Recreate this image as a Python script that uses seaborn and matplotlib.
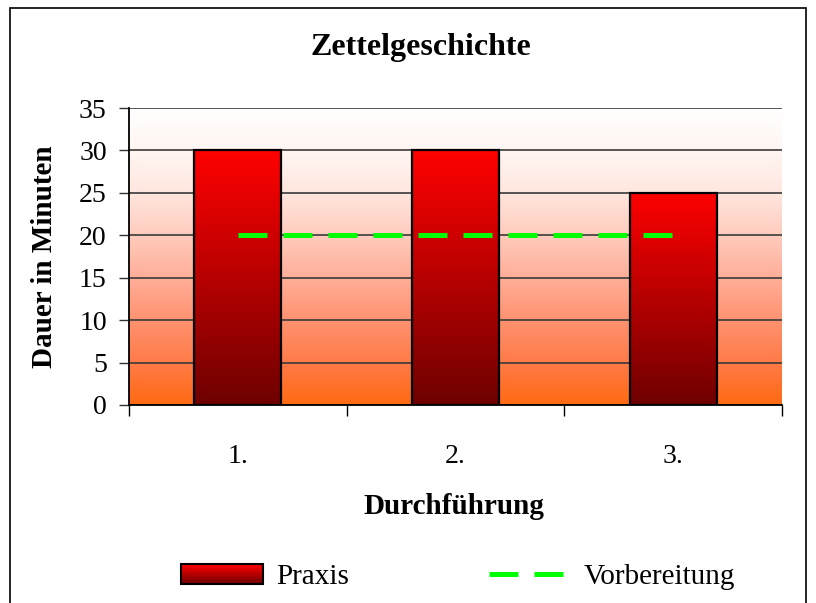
import numpy as np
import pandas as pd
import matplotlib
matplotlib.use("Agg")
import matplotlib.pyplot as plt
import seaborn as sns
from matplotlib.colors import LinearSegmentedColormap
from matplotlib.patches import Rectangle
from matplotlib.lines import Line2D
from matplotlib.legend_handler import HandlerBase

# data
durchfuehrung = ["1.", "2.", "3."]
praxis = [30, 30, 25]
vorbereitung = [20, 20, 20]

sns.set_theme(style="ticks")
plt.rcParams['font.family'] = ['Liberation Serif', 'DejaVu Serif']
plt.rcParams['text.color'] = 'black'
plt.rcParams['axes.labelcolor'] = 'black'
plt.rcParams['xtick.color'] = 'black'
plt.rcParams['ytick.color'] = 'black'

bg_cmap = LinearSegmentedColormap.from_list("bg", [
    (0, "#ff6a12"), (1/7, "#ff7b48"), (2/7, "#ff9270"), (3/7, "#ffae98"),
    (4/7, "#ffcbbd"), (5/7, "#ffe6de"), (6/7, "#fff6f2"), (1, "#ffffff")])
bar_cmap = LinearSegmentedColormap.from_list("bar", ["#6e0000", "#ff0000"])


class GradientHandler(HandlerBase):
    # legend box with the same red gradient as the bars
    def create_artists(self, legend, orig_handle, xdescent, ydescent,
                       width, height, fontsize, trans):
        arts = []
        n = 24
        for i in range(n):
            arts.append(Rectangle((-xdescent, -ydescent + height * i / n), width, height / n * 1.05,
                                  facecolor=bar_cmap(i / (n - 1)), edgecolor='none', transform=trans))
        arts.append(Rectangle((-xdescent, -ydescent), width, height, facecolor='none',
                              edgecolor='black', lw=1.5, transform=trans))
        return arts


fig = plt.figure(figsize=(8.16, 6.03), dpi=100)
ax = fig.add_axes([129/816, 1 - 405/603, 653/816, 297/603])

df = pd.DataFrame({"Durchführung": durchfuehrung, "Praxis": praxis})
sns.barplot(data=df, x="Durchführung", y="Praxis", color="red", width=0.4,
            edgecolor="black", linewidth=1.6, ax=ax)

grad = np.linspace(0, 1, 256).reshape(-1, 1)
ax.imshow(grad, cmap=bg_cmap, origin='lower', extent=(-0.5, 2.5, 0, 35),
          aspect='auto', zorder=0)
for p in ax.patches:
    x0, y0, w, h = p.get_x(), p.get_y(), p.get_width(), p.get_height()
    im = ax.imshow(grad, cmap=bar_cmap, origin='lower', extent=(x0, x0 + w, y0, y0 + h),
                   aspect='auto', zorder=1.5)
    im.set_clip_path(p)
    p.set_facecolor('none')
    p.set_zorder(2)

sns.lineplot(x=np.arange(len(vorbereitung)), y=vorbereitung, ax=ax, color="#00ff00",
             lw=3.6, linestyle=(0, (5.8, 3.2)), zorder=3, legend=False)

ax.set_xlim(-0.5, 2.5)
ax.set_ylim(0, 35)
ax.set_yticks(range(0, 36, 5))
ax.yaxis.grid(True, color="#3a3a3a", lw=1.2)
ax.set_axisbelow(True)

ax.set_xticks([-0.5, 0.5, 1.5, 2.5], labels=[])
ax.set_xticks([0, 1, 2], labels=durchfuehrung, minor=True)
ax.tick_params(axis='x', which='major', direction='out', length=8, width=1, color='black')
ax.tick_params(axis='x', which='minor', length=0, pad=28, labelsize=20)
ax.tick_params(axis='y', direction='out', length=7, width=1, color='#333333', pad=9, labelsize=20)

for s in ['top', 'right']:
    ax.spines[s].set_visible(False)
for s in ['left', 'bottom']:
    ax.spines[s].set_color('black')
    ax.spines[s].set_linewidth(1.3)

ax.set_xlabel("Durchführung", fontsize=21, fontweight='bold')
ax.xaxis.set_label_coords(0.498, -0.295)
ax.set_ylabel("Dauer in Minuten", fontsize=21, fontweight='bold')
ax.yaxis.set_label_coords(-0.108, 0.5)

fig.text(0.516, 1 - 47/603, "Zettelgeschichte", ha='center', va='center',
         fontsize=23, fontweight='bold')

handles = [Rectangle((0, 0), 1, 1, label="Praxis"),
           Line2D([], [], color="#00ff00", lw=3.6, linestyle=(0, (5.8, 3.2)), label="Vorbereitung")]
fig.legend(handles=handles, handler_map={Rectangle: GradientHandler()}, loc='center',
           bbox_to_anchor=(458/816, 1 - 577/603), ncol=2, frameon=False, fontsize=21,
           handlelength=2.8, handleheight=0.7, columnspacing=4.8, handletextpad=0.45)

fig.add_artist(Rectangle((10/816, -0.05), (806 - 10)/816, 1.05 - 8/603, transform=fig.transFigure,
                         fill=False, edgecolor='black', lw=1.2))

fig.savefig("out.png", dpi=100)
